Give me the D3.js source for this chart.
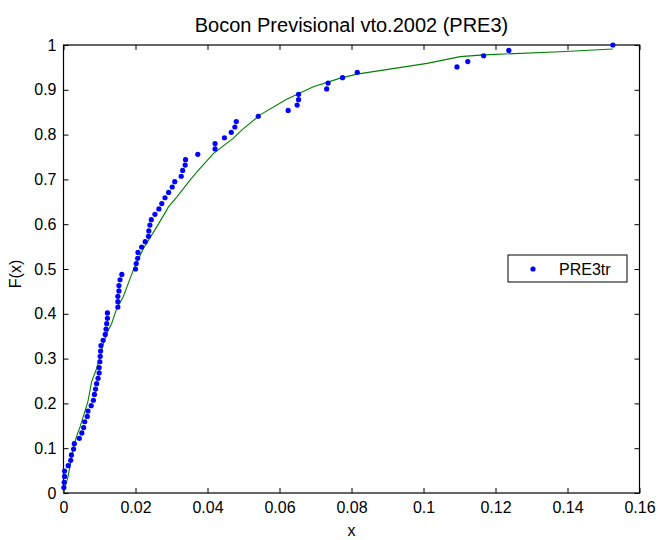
<!DOCTYPE html>
<html>
<head>
<meta charset="utf-8">
<script src="https://cdn.jsdelivr.net/npm/d3@7"></script>
<style>
  body { margin: 0; background: #fff; }
  svg text { font-family: "Liberation Sans", Arial, Helvetica, sans-serif; fill: #000; }
</style>
</head>
<body>
<svg id="chart"></svg>
<script>
// empirical points, x sorted
const sampleX = [
  0.0001, 0.0002, 0.0003, 0.0003, 0.0013, 0.0020, 0.0022, 0.0028, 0.0030, 0.0044,
  0.0051, 0.0056, 0.0059, 0.0066, 0.0068, 0.0077, 0.0083, 0.0086, 0.0089, 0.0092,
  0.0096, 0.0099, 0.0099, 0.0101, 0.0102, 0.0103, 0.0104, 0.0110, 0.0116, 0.0118,
  0.0120, 0.0122, 0.0122, 0.0151, 0.0151, 0.0151, 0.0154, 0.0154, 0.0157, 0.0162,
  0.0200, 0.0202, 0.0206, 0.0207, 0.0217, 0.0227, 0.0236, 0.0237, 0.0240, 0.0244,
  0.0254, 0.0265, 0.0273, 0.0282, 0.0292, 0.0302, 0.0309, 0.0327, 0.0331, 0.0338,
  0.0339, 0.0373, 0.0421, 0.0421, 0.0447, 0.0466, 0.0476, 0.0480, 0.0541, 0.0624,
  0.0649, 0.0653, 0.0653, 0.0731, 0.0735, 0.0775, 0.0816, 0.1093, 0.1123, 0.1167,
  0.1237, 0.1526
];
const sampleF = [
  0.012, 0.024, 0.037, 0.049, 0.061, 0.073, 0.085, 0.098, 0.110, 0.122,
  0.134, 0.146, 0.159, 0.171, 0.183, 0.195, 0.207, 0.220, 0.232, 0.244,
  0.256, 0.268, 0.280, 0.293, 0.305, 0.317, 0.329, 0.341, 0.354, 0.366,
  0.378, 0.390, 0.402, 0.415, 0.427, 0.439, 0.451, 0.463, 0.476, 0.488,
  0.500, 0.512, 0.524, 0.537, 0.549, 0.561, 0.573, 0.585, 0.598, 0.610,
  0.622, 0.634, 0.646, 0.659, 0.671, 0.683, 0.695, 0.707, 0.720, 0.732,
  0.744, 0.756, 0.768, 0.780, 0.793, 0.805, 0.817, 0.829, 0.841, 0.854,
  0.866, 0.878, 0.890, 0.902, 0.915, 0.927, 0.939, 0.951, 0.963, 0.976,
  0.988, 1.000
];

// fitted curve (green)
const fitX = [
  0, 0.0005, 0.00125, 0.0026, 0.0036, 0.0045, 0.0059, 0.0068, 0.0078, 0.0092,
  0.0101, 0.0111, 0.0120, 0.0134, 0.0148, 0.0166, 0.0194, 0.0222, 0.0259, 0.0287,
  0.0291, 0.0315, 0.0352, 0.0370, 0.0417, 0.0472, 0.0495, 0.0546, 0.0620, 0.0694,
  0.0769, 0.0815, 0.1010, 0.1102, 0.1167, 0.1380, 0.1526
];
const fitF = [
  0, 0.015, 0.036, 0.096, 0.126, 0.145, 0.181, 0.205, 0.248, 0.278,
  0.304, 0.334, 0.356, 0.379, 0.412, 0.438, 0.498, 0.546, 0.594, 0.632,
  0.638, 0.661, 0.699, 0.716, 0.758, 0.792, 0.810, 0.844, 0.879, 0.907,
  0.926, 0.935, 0.959, 0.974, 0.978, 0.985, 0.991
];

const xTicks = [0, 0.02, 0.04, 0.06, 0.08, 0.1, 0.12, 0.14, 0.16];
const yTicks = [0, 0.1, 0.2, 0.3, 0.4, 0.5, 0.6, 0.7, 0.8, 0.9, 1];

const titleText = "Bocon Previsional vto.2002 (PRE3)";
const legendLabel = "PRE3tr";

const width = 658, height = 540;
const plotLeft = 63.5, plotRight = 639.5, plotTop = 45, plotBottom = 493;

const svg = d3.select("#chart")
  .attr("width", width)
  .attr("height", height);

svg.append("rect")
  .attr("width", width)
  .attr("height", height)
  .attr("fill", "#fff");

const x = d3.scaleLinear().domain([0, 0.16]).range([plotLeft, plotRight]);
const y = d3.scaleLinear().domain([0, 1]).range([plotBottom, plotTop]);

const fmt = d => d === 0 ? "0" : d === 1 ? "1" : String(+d.toFixed(2));

// axes, ticks point inward like matlab
const gx = svg.append("g")
  .attr("transform", `translate(0,${plotBottom})`)
  .call(d3.axisBottom(x).tickValues(xTicks).tickFormat(fmt).tickSize(-5).tickPadding(9));
const gxTop = svg.append("g")
  .attr("transform", `translate(0,${plotTop})`)
  .call(d3.axisTop(x).tickValues(xTicks).tickFormat("").tickSize(-5));
const gy = svg.append("g")
  .attr("transform", `translate(${plotLeft},0)`)
  .call(d3.axisLeft(y).tickValues(yTicks).tickFormat(fmt).tickSize(-5).tickPadding(7));
const gyRight = svg.append("g")
  .attr("transform", `translate(${plotRight},0)`)
  .call(d3.axisRight(y).tickValues(yTicks).tickFormat("").tickSize(-5));

[gx, gxTop, gy, gyRight].forEach(g => {
  g.select(".domain").remove();
  g.selectAll(".tick line").attr("stroke", "#000");
  g.selectAll(".tick text").attr("font-size", 16).style("font-family", "Liberation Sans, Arial, sans-serif");
});

svg.append("rect")
  .attr("x", plotLeft)
  .attr("y", plotTop)
  .attr("width", plotRight - plotLeft)
  .attr("height", plotBottom - plotTop)
  .attr("fill", "none")
  .attr("stroke", "#000")
  .attr("stroke-width", 1.2);

// fitted line
const line = d3.line()
  .x((d, i) => x(fitX[i]))
  .y((d, i) => y(fitF[i]));

svg.append("path")
  .datum(fitX)
  .attr("d", line)
  .attr("fill", "none")
  .attr("stroke", "#008000")
  .attr("stroke-width", 1.1);

// points
svg.append("g")
  .selectAll("circle")
  .data(sampleX)
  .enter()
  .append("circle")
  .attr("cx", d => x(d))
  .attr("cy", (d, i) => y(sampleF[i]))
  .attr("r", 2.6)
  .attr("fill", "#0000ff");

// title & labels
svg.append("text")
  .attr("x", (plotLeft + plotRight) / 2)
  .attr("y", 32)
  .attr("text-anchor", "middle")
  .attr("font-size", 20)
  .text(titleText);

svg.append("text")
  .attr("x", (plotLeft + plotRight) / 2)
  .attr("y", 536)
  .attr("text-anchor", "middle")
  .attr("font-size", 16)
  .text("x");

svg.append("text")
  .attr("transform", "translate(21,274) rotate(-90)")
  .attr("text-anchor", "middle")
  .attr("font-size", 16)
  .text("F(x)");

// legend
const legend = svg.append("g");
legend.append("rect")
  .attr("x", 508)
  .attr("y", 255)
  .attr("width", 119)
  .attr("height", 27)
  .attr("fill", "#fff")
  .attr("stroke", "#000")
  .attr("stroke-width", 1);
legend.append("circle")
  .attr("cx", 533)
  .attr("cy", 269)
  .attr("r", 2.6)
  .attr("fill", "#0000ff");
legend.append("text")
  .attr("x", 559)
  .attr("y", 274.5)
  .attr("font-size", 16)
  .text(legendLabel);
</script>
</body>
</html>
